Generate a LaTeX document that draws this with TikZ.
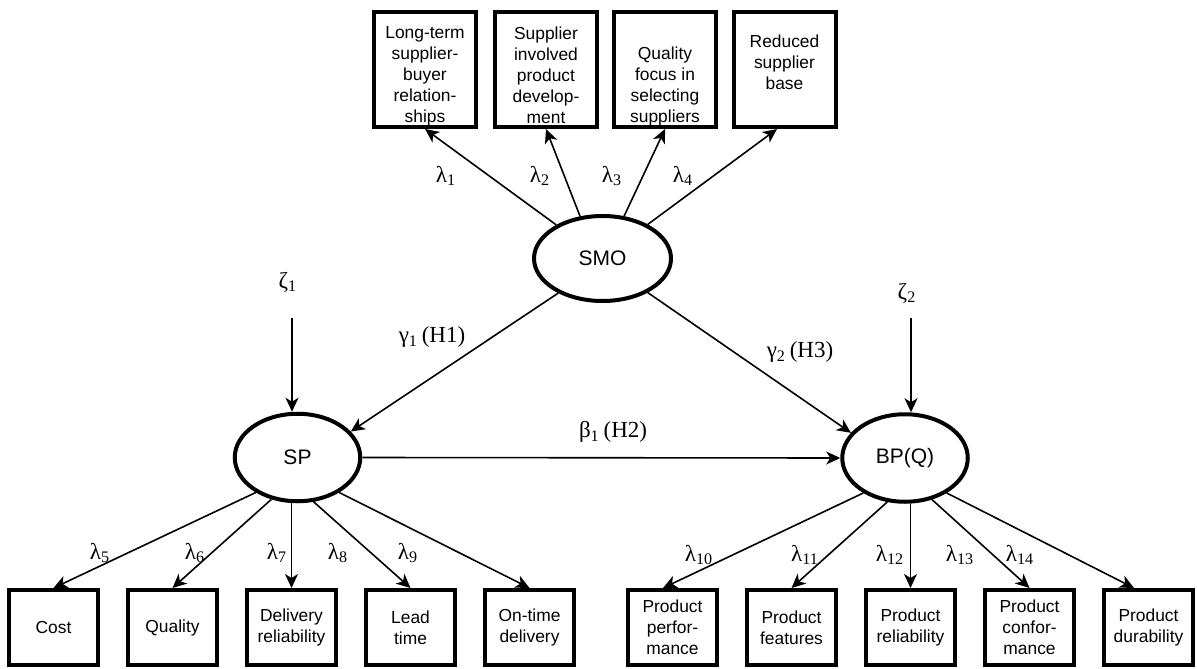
\documentclass[tikz,border=0pt]{standalone}
\usepackage{fontspec}
\setsansfont{Liberation Sans}
\newfontfamily\grkfont{Liberation Serif}
\usetikzlibrary{arrows.meta,shapes.geometric}

\newcommand{\toppad}{\rule{0pt}{12.5pt}}

\begin{document}
\begin{tikzpicture}[x=0.5pt,y=-0.5pt,
  indbox/.style={draw,line width=2pt,inner sep=0pt,align=center,
    font=\sffamily\fontsize{8.7}{10.5}\selectfont},
  topind/.style={indbox,minimum width=51pt,minimum height=57.5pt},
  lowind/.style={indbox,minimum width=44.5pt,minimum height=37.5pt},
  latent/.style={draw,ellipse,line width=2pt,inner sep=0pt,
    font=\sffamily\fontsize{10.5}{12}\selectfont},
  link/.style={-{Stealth[length=7pt,width=6.5pt,inset=2pt]},line width=0.8pt},
  coef/.style={inner sep=0pt,font=\grkfont\fontsize{11.5}{13}\selectfont}]
\useasboundingbox (0,0) rectangle (1197,668);

% latent variables
\node[latent,minimum width=68.5pt,minimum height=42.5pt] (smo) at (602.5,258.5) {SMO};
\node[latent,minimum width=62.75pt,minimum height=43.75pt] (sp) at (297.5,457.5) {SP};
\node[latent,minimum width=62.75pt,minimum height=43.75pt] (bp) at (905,458) {BP(Q)};

% SMO indicators
\node[topind] (m1) at (425,69.5) {\toppad Long-term\\supplier-\\buyer\\relation-\\ships};
\node[topind] (m2) at (546,69.5) {\toppad Supplier\\involved\\product\\develop-\\ment};
\node[topind] (m3) at (665,69.5) {\toppad\\Quality\\focus in\\selecting\\suppliers};
\node[topind] (m4) at (784.5,69.5) {\toppad Reduced\\supplier\\base\\\strut};

% SP indicators
\node[lowind] (cost) at (53.5,627.5) {Cost};
\node[lowind] (qual) at (172.5,627.5) {Quality};
\node[lowind] (deliv) at (291.5,627.5) {Delivery\\reliability};
\node[lowind] (lead) at (410.5,627.5) {Lead\\time};
\node[lowind] (ontime) at (529.5,627.5) {On-time\\delivery};

% BP(Q) indicators
\node[lowind] (pperf) at (672.5,627.5) {Product\\perfor-\\mance};
\node[lowind] (pfeat) at (791.5,627.5) {Product\\features};
\node[lowind] (prel) at (910.5,627.5) {Product\\reliability};
\node[lowind] (pconf) at (1029.5,627.5) {Product\\confor-\\mance};
\node[lowind] (pdur) at (1148.5,627.5) {Product\\durability};

% disturbances
\node[coef] (z1) at (288,282) {ζ\textsubscript{1}};
\node[coef] (z2) at (907,293) {ζ\textsubscript{2}};
\coordinate (z1s) at (292,318);
\coordinate (z2s) at (911,318);
\draw[link] (z1s) -- (z1s |- sp.north);
\draw[link] (z2s) -- (z2s |- bp.north);

% loadings of SMO
\draw[link] (smo.144) -- (m1.south);
\draw[link] (smo.118) -- (m2.south);
\draw[link] (smo.63) -- (m3.south);
\draw[link] (smo.37) -- ([xshift=-3.75pt]m4.south);

% structural paths
\draw[link] (smo.218) -- (sp.26);
\draw[link] (smo.323) -- (bp.155);
\draw[link] (sp.east) -- (bp.west);

% loadings of SP
\draw[link] (sp.220) -- (cost.north);
\draw[link] (sp.238) -- (qual.north);
\draw[link] (sp.south -| deliv.north) -- (deliv.north);
\draw[link] (sp.290) -- (lead.north);
\draw[link] (sp.320) -- (ontime.north);

% loadings of BP(Q)
\draw[link] (bp.220) -- ([xshift=-4.75pt]pperf.north);
\draw[link] (bp.248) -- (pfeat.north);
\draw[link] (bp.south -| prel.north) -- (prel.north);
\draw[link] (bp.303) -- (pconf.north);
\draw[link] (bp.320) -- ([xshift=-7.25pt]pdur.north);

% coefficients
\node[coef] (lam1) at (446,176) {λ\textsubscript{1}};
\node[coef] (lam2) at (540,176) {λ\textsubscript{2}};
\node[coef] (lam3) at (612,176) {λ\textsubscript{3}};
\node[coef] (lam4) at (683,176) {λ\textsubscript{4}};
\node[coef] (lam5) at (100,553) {λ\textsubscript{5}};
\node[coef] (lam6) at (195,553) {λ\textsubscript{6}};
\node[coef] (lam7) at (277,553) {λ\textsubscript{7}};
\node[coef] (lam8) at (338,553) {λ\textsubscript{8}};
\node[coef] (lam9) at (408,553) {λ\textsubscript{9}};
\node[coef] (lam10) at (699,555) {λ\textsubscript{10}};
\node[coef] (lam11) at (805,555) {λ\textsubscript{11}};
\node[coef] (lam12) at (890,555) {λ\textsubscript{12}};
\node[coef] (lam13) at (960,555) {λ\textsubscript{13}};
\node[coef] (lam14) at (1020,555) {λ\textsubscript{14}};
\node[coef] (gam1) at (432,337) {γ\textsubscript{1}\,(H1)};
\node[coef] (bet1) at (613,432) {β\textsubscript{1}\,(H2)};
\node[coef] (gam2) at (800,352) {γ\textsubscript{2}\,(H3)};

\end{tikzpicture}
\end{document}
